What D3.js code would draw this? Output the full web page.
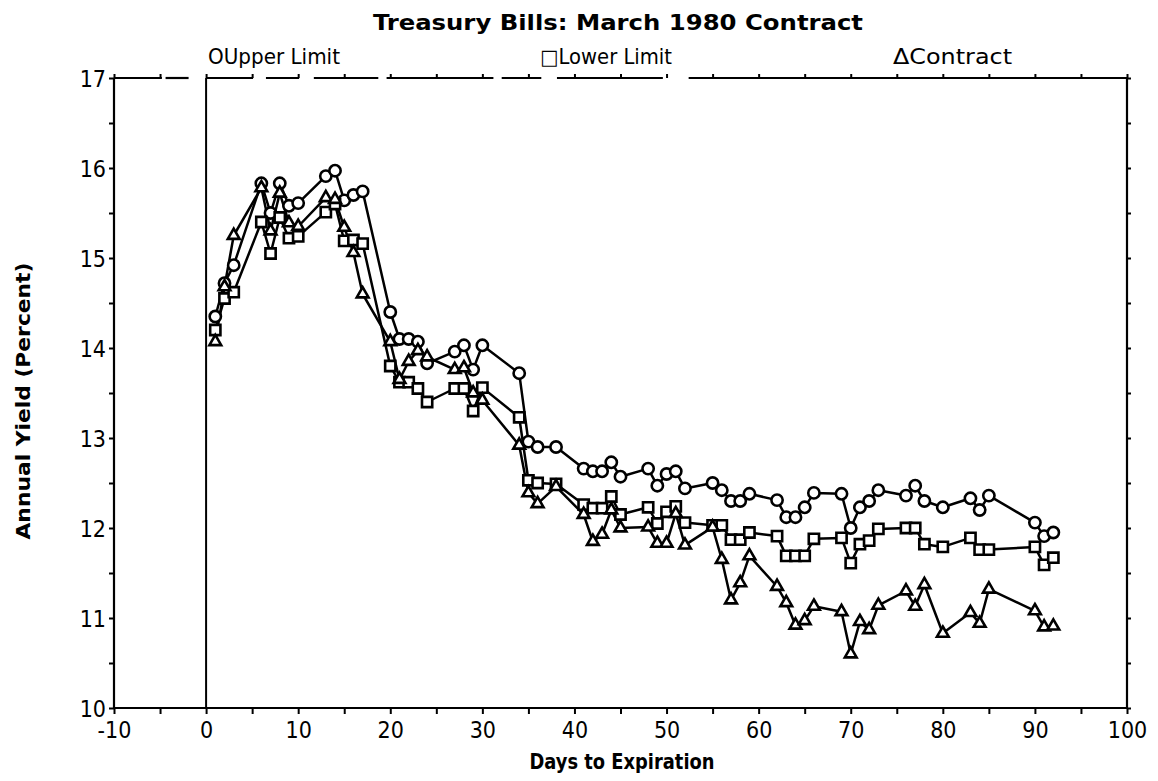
<!DOCTYPE html>
<html>
<head>
<meta charset="utf-8">
<script src="https://cdn.jsdelivr.net/npm/d3@7"></script>
<style>
  body { margin: 0; background: #fff; }
  svg { display: block; }
  text { font-family: "Liberation Sans Narrow", "DejaVu Sans Condensed", "Arial Narrow", sans-serif; fill: #000; }
</style>
</head>
<body>
<div id="chart"></div>
<script>
// days to expiration (trading days only)
var days = [1, 2, 3, 6, 7, 8, 9, 10, 13, 14, 15, 16, 17, 20, 21, 22, 23, 24, 27, 28, 29, 30,
            34, 35, 36, 38, 41, 42, 43, 44, 45, 48, 49, 50, 51, 52, 55, 56, 57, 58, 59,
            62, 63, 64, 65, 66, 69, 70, 71, 72, 73, 76, 77, 78, 80, 83, 84, 85, 90, 91, 92];

var upperLimit = [14.35, 14.72, 14.92, 15.83, 15.50, 15.83, 15.58, 15.61, 15.91, 15.97, 15.64, 15.70, 15.74,
                  14.40, 14.10, 14.10, 14.07, 13.83, 13.96, 14.03, 13.76, 14.03,
                  13.72, 12.96, 12.90, 12.90, 12.66, 12.63, 12.63, 12.73, 12.57, 12.66, 12.47, 12.60, 12.63, 12.44,
                  12.50, 12.42, 12.30, 12.30, 12.38, 12.31, 12.12, 12.12, 12.23, 12.39,
                  12.38, 12.00, 12.23, 12.30, 12.42, 12.36, 12.47, 12.30, 12.23, 12.33, 12.20, 12.36,
                  12.06, 11.91, 11.95];

var lowerLimit = [14.20, 14.55, 14.62, 15.40, 15.05, 15.45, 15.22, 15.24, 15.51, 15.60, 15.19, 15.20, 15.16,
                  13.80, 13.62, 13.62, 13.55, 13.40, 13.55, 13.55, 13.30, 13.56,
                  13.23, 12.53, 12.50, 12.49, 12.26, 12.22, 12.22, 12.35, 12.15, 12.23, 12.05, 12.18, 12.24, 12.06,
                  12.03, 12.03, 11.87, 11.87, 11.95, 11.91, 11.69, 11.69, 11.69, 11.88,
                  11.89, 11.61, 11.82, 11.86, 11.99, 12.00, 12.00, 11.82, 11.79, 11.89, 11.76, 11.76,
                  11.79, 11.59, 11.67];

var contract = [14.07, 14.68, 15.25, 15.78, 15.30, 15.72, 15.39, 15.35, 15.67, 15.65, 15.34, 15.06, 14.60,
                14.07, 13.65, 13.85, 13.97, 13.90, 13.76, 13.78, 13.50, 13.42,
                12.92, 12.39, 12.27, 12.46, 12.15, 11.85, 11.93, 12.20, 12.00, 12.01, 11.83, 11.83, 12.16, 11.81,
                12.01, 11.65, 11.20, 11.39, 11.69, 11.35, 11.17, 10.92, 10.97, 11.13,
                11.07, 10.60, 10.96, 10.87, 11.14, 11.30, 11.13, 11.37, 10.83, 11.06, 10.94, 11.32,
                11.08, 10.90, 10.91];

var xTickValues = d3.range(-10, 101, 5);
var yTickValues = d3.range(10, 17.01, 0.5);

var svgWidth = 1158;
var svgHeight = 781;

var margin = {
  top: 78,
  bottom: 73,
  left: 114,
  right: 31
};

var width = svgWidth - margin.left - margin.right;
var height = svgHeight - margin.top - margin.bottom;

var svg = d3.select("#chart")
    .append("svg")
    .attr("width", svgWidth)
    .attr("height", svgHeight);

var chartGroup = svg.append("g")
    .attr("transform", `translate(${margin.left}, ${margin.top})`);

var xLinearScale = d3.scaleLinear()
    .domain([-10, 100])
    .range([0, width]);

var yLinearScale = d3.scaleLinear()
    .domain([10, 17])
    .range([height, 0]);

// axes
var xAxis = d3.axisBottom(xLinearScale)
    .tickValues(xTickValues)
    .tickSize(6)
    .tickFormat(d => d % 10 === 0 ? String(d) : "");

var yAxis = d3.axisLeft(yLinearScale)
    .tickValues(yTickValues)
    .tickSize(5)
    .tickFormat(d => d % 1 === 0 ? String(d) : "");

var topAxis = d3.axisTop(xLinearScale)
    .tickValues(xTickValues)
    .tickSize(4)
    .tickFormat("");

var rightAxis = d3.axisRight(yLinearScale)
    .tickValues(yTickValues)
    .tickSize(4)
    .tickFormat("");

function styleAxis(g) {
  g.select(".domain").remove();
  g.selectAll(".tick line").attr("stroke", "#000").attr("stroke-width", 2);
  g.selectAll(".tick text").style("font-size", "23px").attr("fill", "#000");
}

chartGroup.append("g")
    .attr("transform", `translate(0, ${height})`)
    .call(xAxis)
    .call(styleAxis)
    .selectAll(".tick text").attr("dy", "0.85em").attr("y", 10);

chartGroup.append("g")
    .call(yAxis)
    .call(styleAxis)
    .selectAll(".tick text").attr("x", -8).attr("dy", "0.36em");

chartGroup.append("g").call(topAxis).call(styleAxis);

chartGroup.append("g")
    .attr("transform", `translate(${width}, 0)`)
    .call(rightAxis)
    .call(styleAxis);

// frame: left, bottom, right edges solid
chartGroup.append("path")
    .attr("d", `M0,0V${height}H${width}V0`)
    .attr("fill", "none")
    .attr("stroke", "#000")
    .attr("stroke-width", 2.2);

// top edge is broken in the print, drawn as pieces between day positions
var topPieces = [[-10, -4.8], [-4.4, -1.9], [0, 5.1], [6.5, 10.1], [11.7, 18.7], [19.6, 31.2],
                 [32.1, 36.4], [38.1, 49.6], [52.4, 100]];

chartGroup.selectAll(".top-piece")
    .data(topPieces)
    .enter()
    .append("line")
    .attr("class", "top-piece")
    .attr("x1", d => xLinearScale(d[0]))
    .attr("x2", d => xLinearScale(d[1]))
    .attr("y1", 0)
    .attr("y2", 0)
    .attr("stroke", "#000")
    .attr("stroke-width", 2.2);

// zero line
chartGroup.append("line")
    .attr("x1", xLinearScale(0))
    .attr("x2", xLinearScale(0))
    .attr("y1", 0)
    .attr("y2", height)
    .attr("stroke", "#000")
    .attr("stroke-width", 2);

// series
var series = [
  {name: "upper", values: upperLimit, symbol: d3.symbolCircle, size: 100},
  {name: "lower", values: lowerLimit, symbol: d3.symbolSquare, size: 105},
  {name: "contract", values: contract, symbol: d3.symbolTriangle, size: 60}
];

var line = d3.line()
    .x(d => xLinearScale(d.day))
    .y(d => yLinearScale(d.value));

series.forEach(function(s) {
  s.points = days.map((d, i) => ({day: d, value: s.values[i]}));
  chartGroup.append("path")
      .datum(s.points)
      .attr("d", line)
      .attr("fill", "none")
      .attr("stroke", "#000")
      .attr("stroke-width", 2.5)
      .attr("stroke-linejoin", "round");
});

series.forEach(function(s) {
  chartGroup.selectAll(".marker-" + s.name)
      .data(s.points)
      .enter()
      .append("path")
      .attr("class", "marker-" + s.name)
      .attr("d", d3.symbol(s.symbol, s.size))
      .attr("transform", d => `translate(${xLinearScale(d.day)}, ${yLinearScale(d.value)})`)
      .attr("fill", "#fff")
      .attr("stroke", "#000")
      .attr("stroke-width", 2.6);
});

// title and labels
svg.append("text")
    .attr("x", 618)
    .attr("y", 30)
    .attr("text-anchor", "middle")
    .attr("textLength", 490)
    .attr("lengthAdjust", "spacingAndGlyphs")
    .style("font-size", "22px")
    .style("font-weight", "bold")
    .text("Treasury Bills: March 1980 Contract");

var legendItems = [
  {label: "Upper Limit", sym: "O", x: 208, len: 132},
  {label: "Lower Limit", sym: "\u25A1", x: 540, len: 132},
  {label: "Contract", sym: "\u0394", x: 893, len: 119}
];

legendItems.forEach(function(item) {
  svg.append("text")
      .attr("x", item.x)
      .attr("y", 64)
      .attr("textLength", item.len)
      .attr("lengthAdjust", "spacingAndGlyphs")
      .style("font-size", "21px")
      .text(item.sym + item.label);
});

svg.append("text")
    .attr("x", 622)
    .attr("y", 769)
    .attr("text-anchor", "middle")
    .attr("textLength", 185)
    .attr("lengthAdjust", "spacingAndGlyphs")
    .style("font-size", "22px")
    .style("font-weight", "bold")
    .text("Days to Expiration");

svg.append("text")
    .attr("transform", "translate(30, 401) rotate(-90)")
    .attr("text-anchor", "middle")
    .attr("textLength", 277)
    .attr("lengthAdjust", "spacingAndGlyphs")
    .style("font-size", "20px")
    .style("font-weight", "bold")
    .text("Annual Yield (Percent)");
</script>
</body>
</html>
